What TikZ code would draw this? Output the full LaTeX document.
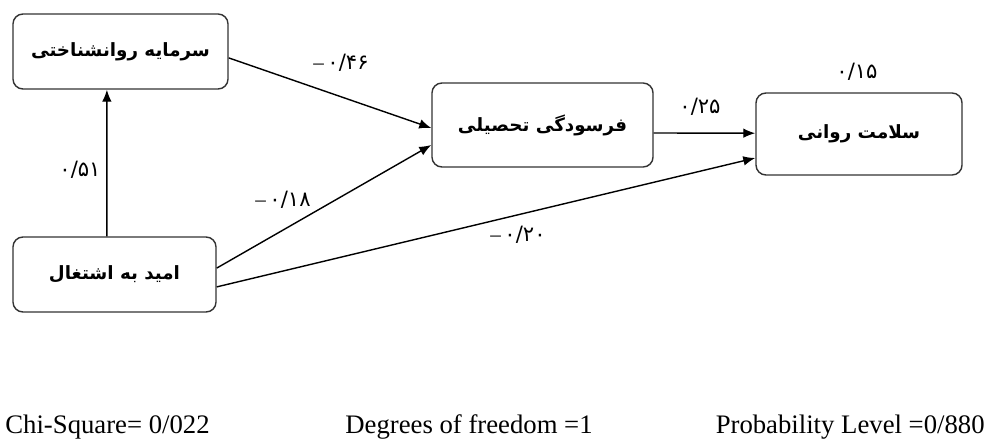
\documentclass[tikz,border=0pt]{standalone}
\usepackage{fontspec}
\setmainfont{Liberation Serif}
\newfontfamily\farsi[Script=Arabic]{DejaVu Sans}
\TeXXeTstate=1
\usetikzlibrary{arrows.meta}
\newcommand{\mneg}{{\rmfamily\textendash}\,}
\begin{document}
\begin{tikzpicture}[x=0.025cm, y=-0.025cm, >={Latex[length=0.3cm, width=0.24cm]}, line width=1pt,
				box/.style={draw=black!80, rounded corners=0.25cm, font=\farsi\bfseries\fontsize{13}{15}\selectfont},
				coef/.style={font=\farsi\fontsize{15}{17}\selectfont},
				fit/.style={font=\fontsize{19}{22}\selectfont}]
				\useasboundingbox (0,0) rectangle (991,439);
				\node[box, minimum width=5.375cm, minimum height=1.875cm] (sarmaye) at (120.5,51.5) {\beginR سرمایه روانشناختی\endR};
				\node[box, minimum width=5.525cm, minimum height=2.1cm] (farsudegi) at (542.5,125) {\beginR فرسودگی تحصیلی\endR};
				\node[box, minimum width=5.15cm, minimum height=2.05cm] (salamat) at (859,134) {\beginR سلامت روانی\endR};
				\node[box, minimum width=5.075cm, minimum height=1.875cm] (omid) at (114.5,274.5) {\beginR امید به اشتغال\endR};
				% paths
				\draw[->] ([xshift=-0.19cm]omid.north) -- ([xshift=-0.34cm]sarmaye.south);
				\draw[->] ([yshift=-0.16cm]sarmaye.east) -- ([yshift=-0.075cm]farsudegi.west);
				\draw[->] ([yshift=0.16cm]omid.east) -- ([yshift=-0.5cm]farsudegi.west);
				\draw[->] ([yshift=-0.2cm]farsudegi.east) -- ([yshift=0.02cm]salamat.west);
				\draw[->] ([yshift=-0.31cm]omid.east) -- ([yshift=-0.6cm]salamat.west);
				% coefficients
				\node[coef] (c46) at (341,63) {\mneg۰/۴۶};
				\node[coef] (c18) at (283,200) {\mneg۰/۱۸};
				\node[coef] (c25) at (700,107) {۰/۲۵};
				\node[coef] (c51) at (80,170) {۰/۵۱};
				\node[coef] (c20) at (518,235) {\mneg۰/۲۰};
				\node[coef] (c15) at (857,72) {۰/۱۵};
				% fit indices
				\node[fit, anchor=base west] (chi) at (0,433) {Chi-Square= 0/022};
				\node[fit, anchor=base west] (df) at (340,433) {Degrees of freedom =1};
				\node[fit, anchor=base east] (plevel) at (990,433) {Probability Level =0/880};
\end{tikzpicture}
\end{document}
